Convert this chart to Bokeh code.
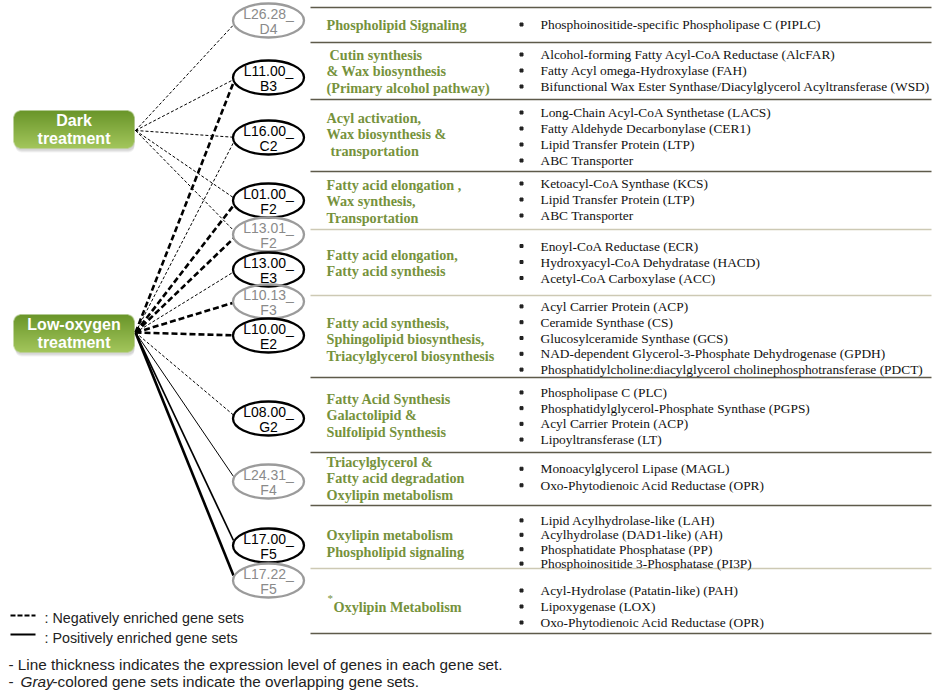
import numpy as np
from bokeh.plotting import figure
from bokeh.models import Range1d, ColumnDataSource
from bokeh.embed import file_html
from bokeh.resources import INLINE
from bokeh.core.properties import value

# ---------------- data ----------------
treatment_names = ["Dark", "Low-oxygen"]
treatment_lines = [["Dark", "treatment"], ["Low-oxygen", "treatment"]]

node_top = ["L26.28_", "L11.00_", "L16.00_", "L01.00_", "L13.01_", "L13.00_",
            "L10.13_", "L10.00_", "L08.00_", "L24.31_", "L17.00_", "L17.22_"]
node_bottom = ["D4", "B3", "C2", "F2", "F2", "E3", "F3", "E2", "G2", "F4", "F5", "F5"]
node_gray = [True, False, False, False, True, False, True, False, False, True, False, True]

# links: source treatment, target node index, sign (neg/pos), expression weight (1..3)
link_source = ["Dark"] * 5 + ["Low-oxygen"] * 11
link_target = [0, 1, 2, 3, 4,
               1, 2, 3, 4, 5, 6, 7, 8, 9, 10, 11]
link_sign = ["neg"] * 5 + ["neg"] * 8 + ["pos"] * 3
link_weight = [1, 1, 1, 1, 1,
               3, 1, 3, 3, 1, 3, 3, 1, 1, 2, 3]

section_titles = [
    ["Phospholipid Signaling"],
    ["Cutin synthesis", "& Wax biosynthesis", "(Primary alcohol pathway)"],
    ["Acyl activation,", "Wax biosynthesis &", "transportation"],
    ["Fatty acid elongation ,", "Wax synthesis,", "Transportation"],
    ["Fatty acid elongation,", "Fatty acid synthesis"],
    ["Fatty acid synthesis,", "Sphingolipid biosynthesis,", "Triacylglycerol biosynthesis"],
    ["Fatty Acid Synthesis", "Galactolipid &", "Sulfolipid Synthesis"],
    ["Triacylglycerol &", "Fatty acid degradation", "Oxylipin metabolism"],
    ["Oxylipin metabolism", "Phospholipid  signaling"],
    ["Oxylipin Metabolism"],
]
section_items = [
    ["Phosphoinositide-specific Phospholipase C (PIPLC)"],
    ["Alcohol-forming Fatty Acyl-CoA Reductase (AlcFAR)",
     "Fatty Acyl omega-Hydroxylase  (FAH)",
     "Bifunctional Wax Ester Synthase/Diacylglycerol Acyltransferase (WSD)"],
    ["Long-Chain Acyl-CoA Synthetase (LACS)", "Fatty Aldehyde Decarbonylase (CER1)",
     "Lipid Transfer Protein (LTP)", "ABC Transporter"],
    ["Ketoacyl-CoA Synthase (KCS)", "Lipid Transfer Protein (LTP)", "ABC Transporter"],
    ["Enoyl-CoA Reductase (ECR)", "Hydroxyacyl-CoA Dehydratase (HACD)",
     "Acetyl-CoA Carboxylase (ACC)"],
    ["Acyl Carrier  Protein (ACP)", "Ceramide Synthase (CS)", "Glucosylceramide  Synthase (GCS)",
     "NAD-dependent Glycerol-3-Phosphate Dehydrogenase (GPDH)",
     "Phosphatidylcholine:diacylglycerol cholinephosphotransferase (PDCT)"],
    ["Phospholipase C (PLC)", "Phosphatidylglycerol-Phosphate Synthase  (PGPS)",
     "Acyl Carrier  Protein (ACP)", "Lipoyltransferase (LT)"],
    ["Monoacylglycerol Lipase (MAGL)", "Oxo-Phytodienoic Acid Reductase (OPR)"],
    ["Lipid Acylhydrolase-like (LAH)", "Acylhydrolase (DAD1-like)  (AH)",
     "Phosphatidate Phosphatase (PP)", "Phosphoinositide 3-Phosphatase (PI3P)"],
    ["Acyl-Hydrolase (Patatin-like)  (PAH)", "Lipoxygenase (LOX)",
     "Oxo-Phytodienoic Acid Reductase (OPR)"],
]
section_marked = [False] * 9 + [True]   # asterisk before the title

legend_labels = [": Negatively enriched gene sets", ": Positively enriched gene sets"]
note_1 = "- Line thickness indicates the expression level of genes in each gene set."
note_2_a, note_2_b, note_2_c = "- ", "Gray", "-colored gene sets indicate the overlapping gene sets."

# ---------------- layout (pixels) ----------------
box_left, box_right = 13, 134
box_cy = {"Dark": 129, "Low-oxygen": 333}
src_pt = {"Dark": (135, 130), "Low-oxygen": (135, 332)}
node_cx, node_w, node_h = 268, 71, 34
node_cy = [20, 77, 137, 200, 234, 269, 301, 335, 418, 481, 545, 580]
sect_bounds = [7, 42, 99, 171, 229, 295, 377, 452, 505, 568, 633]
sect_light = [False, False, False, False, True, True, False, False, False, True, False]
title_cy = [24, 70.5, 133.5, 200.5, 262.5, 338.5, 414.5, 477.5, 543, 606]
title_indent = [[0], [3, 0, 0], [0, 0, 4], [0, 0, 0], [0, 0], [0, 0, 0], [0, 0, 0],
                [0, 0, 0], [0, 0], [7]]
item_cy = [24, 70, 136, 199, 261.5, 337.5, 415.5, 476.5, 541.5, 606]
item_gap = [16, 16, 16, 16, 16, 15.8, 15.7, 16.5, 14.4, 16]

W, H = 950, 696
p = figure(width=W, height=H, x_range=Range1d(0, W), y_range=Range1d(H, 0),
           output_backend="svg", toolbar_location=None, min_border=0)
p.axis.visible = False
p.grid.visible = False
p.outline_line_color = None
p.background_fill_color = "white"

SANS = value("Liberation Sans")
SERIF = value("Liberation Serif")

# ---------------- links ----------------
for s, t, sign, wgt in zip(link_source, link_target, link_sign, link_weight):
    sx, sy = src_pt[s]
    cy = node_cy[t]
    ey = cy + float(np.clip(0.04 * (sy - cy), -5, 5))
    ex = node_cx - node_w / 2 + 0.5
    lw = {1: 1.0, 2: 1.7, 3: 2.6}[wgt]
    if sign == "neg":
        dash = "3 2" if wgt == 1 else "6 3"
    else:
        dash = "solid"
    p.line([sx, ex], [sy, ey], line_color="black", line_width=lw, line_dash=dash)

# ---------------- nodes ----------------
ncol = ["#9b9b9b" if g else "black" for g in node_gray]
tcol = ["#8a8a8a" if g else "black" for g in node_gray]
nsrc = ColumnDataSource(dict(x=[node_cx] * len(node_cy), y=node_cy, c=ncol, tc=tcol,
                             top=node_top, bot=node_bottom,
                             yt=[v - 7 for v in node_cy], yb=[v + 8 for v in node_cy]))
p.ellipse(x="x", y="y", width=node_w, height=node_h, source=nsrc, fill_alpha=0,
          line_color="c", line_width=2.3)
p.text(x="x", y="yt", text="top", source=nsrc, text_color="tc", text_font=SANS,
       text_font_size="14px", text_align="center", text_baseline="middle")
p.text(x="x", y="yb", text="bot", source=nsrc, text_color="tc", text_font=SANS,
       text_font_size="14px", text_align="center", text_baseline="middle")

# ---------------- treatment boxes (gradient) ----------------
def gradient_box(w, h, r, top, bot):
    img = np.zeros((h, w), dtype=np.uint32)
    v = img.view(dtype=np.uint8).reshape((h, w, 4))
    top = np.array(top, float)
    bot = np.array(bot, float)
    for j in range(h):
        t = j / (h - 1)
        c = top * t + bot * (1 - t)   # row 0 = bottom
        v[j, :, 0:3] = c.astype(np.uint8)
        v[j, :, 3] = 255
    yy, xx = np.mgrid[0:h, 0:w]
    for cx0, cy0 in [(r, r), (w - 1 - r, r), (r, h - 1 - r), (w - 1 - r, h - 1 - r)]:
        m = ((xx < r) if cx0 == r else (xx > w - 1 - r)) & ((yy < r) if cy0 == r else (yy > h - 1 - r))
        d = np.sqrt((xx - cx0) ** 2 + (yy - cy0) ** 2)
        a = np.clip(r + 0.5 - d, 0, 1)
        v[..., 3] = np.where(m, (a * 255).astype(np.uint8), v[..., 3])
    return img

bw, bh = box_right - box_left, 38
for name, lines in zip(treatment_names, treatment_lines):
    cy = box_cy[name]
    for k, a in [(4, 0.08), (3, 0.10), (2, 0.12)]:
        p.rect(x=(box_left + box_right) / 2 + 1, y=cy + k, width=bw - 2, height=bh,
               fill_color="#6a6a6a", fill_alpha=a, line_color=None, border_radius=6)
    img = gradient_box(bw, bh, 6, (163, 198, 92), (106, 150, 42))
    p.image_rgba(image=[img], x=box_left, y=cy - bh / 2, dw=bw, dh=bh)
    p.text(x=[(box_left + box_right) / 2] * 2, y=[cy - 9, cy + 9], text=lines,
           text_color="white", text_font=SANS, text_font_style="bold",
           text_font_size="16px", text_align="center", text_baseline="middle")

# ---------------- table ----------------
tl_x0, tl_x1 = 310, 931
p.segment(x0=[tl_x0] * len(sect_bounds), x1=[tl_x1] * len(sect_bounds),
          y0=sect_bounds, y1=sect_bounds,
          line_color=["#cdc9b4" if l else "#5e5a4a" for l in sect_light], line_width=1.3)

tx, ty, tt = [], [], []
ix, iy, it = [], [], []
for k, (titles, items) in enumerate(zip(section_titles, section_items)):
    n = len(titles)
    for i, s in enumerate(titles):
        tx.append(326 + title_indent[k][i])
        ty.append(title_cy[k] + (i - (n - 1) / 2) * 16.5)
        tt.append(s)
    m = len(items)
    for i, s in enumerate(items):
        ix.append(540)
        iy.append(item_cy[k] + (i - (m - 1) / 2) * item_gap[k])
        it.append(s)
    if section_marked[k]:
        p.text(x=[327], y=[title_cy[k] - 9], text=["*"], text_color="#76923c",
               text_font=SERIF, text_font_size="11px", text_baseline="middle")

p.text(x=tx, y=ty, text=tt, text_color="#76923c", text_font=SERIF, text_font_style="bold",
       text_font_size="14.2px", text_baseline="middle")
p.scatter(x=[521] * len(iy), y=iy, marker="square", size=3, color="#222222")
p.text(x=ix, y=iy, text=it, text_color="#111111", text_font=SERIF,
       text_font_size="13.4px", text_baseline="middle")

# ---------------- legend & notes ----------------
p.line([10, 35], [615, 615], line_color="black", line_width=2.2, line_dash="5 2")
p.line([10, 35], [634, 634], line_color="black", line_width=2.2)
p.text(x=[44, 44], y=[617, 637], text=legend_labels, text_color="#222222", text_font=SANS,
       text_font_size="14.3px", text_baseline="middle")
p.text(x=[8], y=[664], text=[note_1], text_color="#222222", text_font=SANS,
       text_font_size="15.3px", text_baseline="middle")
p.text(x=[8], y=[681], text=[note_2_a], text_color="#222222", text_font=SANS,
       text_font_size="15.3px", text_baseline="middle")
p.text(x=[20], y=[681], text=[note_2_b], text_color="#222222", text_font=SANS,
       text_font_style="italic", text_font_size="15.3px", text_baseline="middle")
p.text(x=[52], y=[681], text=[note_2_c], text_color="#222222", text_font=SANS,
       text_font_size="15.3px", text_baseline="middle")

open("out.html", "w").write(file_html(p, INLINE))
